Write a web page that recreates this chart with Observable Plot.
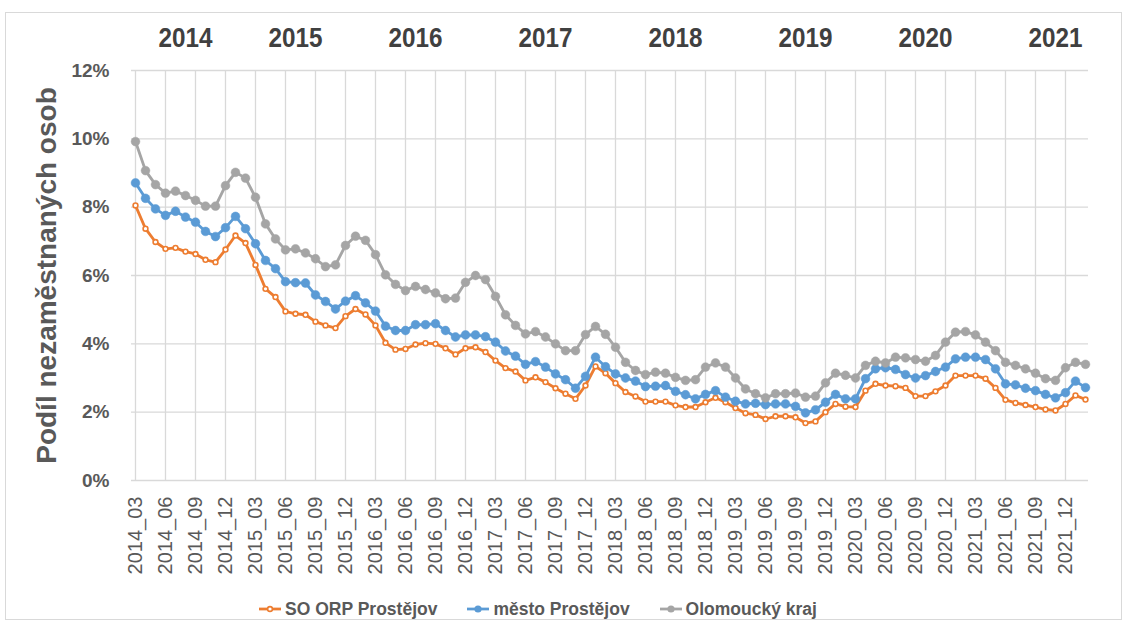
<!DOCTYPE html>
<html>
<head>
<meta charset="utf-8">
<script src="https://cdn.jsdelivr.net/npm/d3@7"></script>
<script src="https://cdn.jsdelivr.net/npm/@observablehq/plot@0.6"></script>
<style>
  body { margin: 0; background: #fff; }
  #wrap { position: relative; width: 1136px; height: 630px; overflow: hidden; background: #fff; }
  #frame { position: absolute; left: 5px; top: 12px; width: 1115px; height: 606px; border: 1px solid #d9d9d9; pointer-events: none; }
  #legend { position: relative; width: 1136px; height: 34px; display: flex; justify-content: center; align-items: center; gap: 30px;
            font-family: "Liberation Sans", Arial, sans-serif; font-weight: bold; font-size: 17.5px; color: #595959; padding-right: 60px; box-sizing: border-box; }
  #legend .item { display: flex; align-items: center; gap: 4px; }
</style>
</head>
<body>
<div id="wrap">
  <div id="chart"></div>
  <div id="legend"></div>
  <div id="frame"></div>
</div>
<script>
// Categories: months
const months = [
  "2014_03","2014_04","2014_05","2014_06","2014_07","2014_08","2014_09","2014_10","2014_11","2014_12",
  "2015_01","2015_02","2015_03","2015_04","2015_05","2015_06","2015_07","2015_08","2015_09","2015_10","2015_11","2015_12",
  "2016_01","2016_02","2016_03","2016_04","2016_05","2016_06","2016_07","2016_08","2016_09","2016_10","2016_11","2016_12",
  "2017_01","2017_02","2017_03","2017_04","2017_05","2017_06","2017_07","2017_08","2017_09","2017_10","2017_11","2017_12",
  "2018_01","2018_02","2018_03","2018_04","2018_05","2018_06","2018_07","2018_08","2018_09","2018_10","2018_11","2018_12",
  "2019_01","2019_02","2019_03","2019_04","2019_05","2019_06","2019_07","2019_08","2019_09","2019_10","2019_11","2019_12",
  "2020_01","2020_02","2020_03","2020_04","2020_05","2020_06","2020_07","2020_08","2020_09","2020_10","2020_11","2020_12",
  "2021_01","2021_02","2021_03","2021_04","2021_05","2021_06","2021_07","2021_08","2021_09","2021_10","2021_11","2021_12",
  "2022_01","2022_02"
];

// Series values (%)
const soOrpProstejov = [
  8.05,7.37,6.98,6.78,6.81,6.70,6.63,6.46,6.39,6.76,
  7.17,6.95,6.31,5.61,5.37,4.95,4.88,4.85,4.65,4.54,4.46,4.81,
  5.02,4.86,4.54,4.03,3.83,3.85,3.98,4.02,4.00,3.87,3.69,3.87,
  3.90,3.76,3.51,3.29,3.19,2.93,3.02,2.88,2.70,2.54,2.39,2.78,
  3.34,3.14,2.85,2.59,2.46,2.31,2.31,2.31,2.20,2.15,2.15,2.29,
  2.42,2.29,2.12,1.97,1.92,1.80,1.88,1.88,1.85,1.68,1.73,2.00,
  2.24,2.16,2.15,2.63,2.83,2.78,2.76,2.71,2.47,2.47,2.61,2.78,
  3.07,3.07,3.07,2.98,2.71,2.36,2.27,2.21,2.15,2.08,2.05,2.24,
  2.49,2.37
];
const mestoProstejov = [
  8.71,8.26,7.95,7.76,7.88,7.71,7.56,7.29,7.14,7.40,
  7.73,7.37,6.93,6.44,6.20,5.82,5.79,5.78,5.43,5.24,5.02,5.25,
  5.41,5.20,4.96,4.52,4.39,4.39,4.56,4.56,4.59,4.39,4.20,4.26,
  4.26,4.21,4.05,3.79,3.64,3.40,3.48,3.32,3.12,2.95,2.70,3.05,
  3.61,3.33,3.12,3.00,2.91,2.75,2.76,2.78,2.61,2.51,2.39,2.52,
  2.63,2.44,2.32,2.24,2.26,2.22,2.24,2.24,2.17,1.98,2.07,2.29,
  2.52,2.39,2.39,2.98,3.27,3.30,3.25,3.10,3.00,3.07,3.19,3.32,
  3.56,3.61,3.61,3.54,3.27,2.83,2.80,2.70,2.63,2.52,2.42,2.57,
  2.91,2.72
];
const olomouckyKraj = [
  9.92,9.07,8.66,8.41,8.47,8.34,8.20,8.03,8.03,8.63,
  9.02,8.85,8.29,7.51,7.07,6.75,6.78,6.66,6.49,6.26,6.31,6.88,
  7.15,7.03,6.61,6.02,5.74,5.56,5.68,5.59,5.49,5.32,5.34,5.80,
  6.00,5.88,5.39,4.85,4.54,4.29,4.36,4.20,4.00,3.80,3.80,4.27,
  4.51,4.28,3.90,3.46,3.22,3.10,3.17,3.14,3.02,2.93,2.95,3.32,
  3.44,3.32,3.00,2.68,2.54,2.42,2.54,2.54,2.56,2.44,2.47,2.86,
  3.14,3.08,3.00,3.37,3.49,3.44,3.61,3.59,3.54,3.49,3.66,4.05,
  4.34,4.36,4.26,4.05,3.80,3.46,3.37,3.27,3.14,2.98,2.93,3.30,
  3.46,3.40
];

const seriesNames = ["SO ORP Prostějov", "město Prostějov", "Olomoucký kraj"];
const seriesColors = ["#ED7D31", "#5B9BD5", "#A5A5A5"];

// Tick labels
const xTickLabels = months.filter((m, i) => i % 3 === 0 && i <= 93);
const yTicks = [0, 2, 4, 6, 8, 10, 12];

// Year header labels and the month each is centered over
const yearLabels = ["2014","2015","2016","2017","2018","2019","2020","2021"];
const yearAnchors = ["2014_08","2015_07","2016_07","2017_08","2018_09","2019_10","2020_10","2021_11"];

const yAxisTitle = "Podíl nezaměstnaných osob";

const font = "'Liberation Sans', Arial, sans-serif";

function seriesMarks(values, color, open) {
  const rows = months.map((m, i) => ({ month: m, value: values[i] }));
  return [
    Plot.line(rows, { x: "month", y: "value", stroke: color, strokeWidth: 2.85, curve: "linear" }),
    open
      ? Plot.dot(rows, { x: "month", y: "value", r: 2.4, fill: "white", stroke: color, strokeWidth: 1.6 })
      : Plot.dot(rows, { x: "month", y: "value", r: 4.4, fill: color, stroke: color, strokeWidth: 0.5 })
  ];
}

const yearRows = yearLabels.map((y, i) => ({ label: y, month: yearAnchors[i] }));

const chart = Plot.plot({
  width: 1136,
  height: 592,
  marginLeft: 131,
  marginRight: 48,
  marginTop: 70,
  marginBottom: 112,
  style: { fontFamily: font, background: "transparent", overflow: "visible" },
  x: { type: "point", domain: months, padding: 0, label: null },
  y: { domain: [0, 12], label: null },
  marks: [
    Plot.ruleY(yTicks, { stroke: "#d9d9d9", strokeWidth: 1.3 }),
    Plot.ruleX(xTickLabels, { y1: 0, y2: 12, stroke: "#d9d9d9", strokeWidth: 1.3 }),
    Plot.axisX({ ticks: xTickLabels, tickRotate: -90, tickSize: 0, tickPadding: 16, fontSize: 20, fill: "#595959", label: null }),
    Plot.axisY({ ticks: yTicks, tickFormat: d => d + "%", tickSize: 0, tickPadding: 22, fontSize: 19, fontWeight: "bold", fill: "#595959", label: null }),
    Plot.text([yAxisTitle], { frameAnchor: "left", dx: -84, rotate: -90, textAnchor: "middle", lineAnchor: "middle", fontSize: 28, fontWeight: "bold", fill: "#595959", fontFamily: font }),
    Plot.text(yearRows, { x: "month", y: () => 12, text: "label", dy: -32, fontSize: 27, fontWeight: "bold", fill: "#404040", fontFamily: font }),
    ...seriesMarks(soOrpProstejov, seriesColors[0], true),
    ...seriesMarks(mestoProstejov, seriesColors[1], false),
    ...seriesMarks(olomouckyKraj, seriesColors[2], false)
  ]
});
document.getElementById("chart").appendChild(chart);

// Condense the year header labels (narrow bold look)
d3.select(chart).selectAll("text").each(function () {
  if (yearLabels.includes(this.textContent)) {
    this.setAttribute("textLength", 54);
    this.setAttribute("lengthAdjust", "spacingAndGlyphs");
  }
});

// Legend
const legend = document.getElementById("legend");
seriesNames.forEach((name, i) => {
  const item = document.createElement("div");
  item.className = "item";
  const c = seriesColors[i];
  const dot = i === 0
    ? `<circle cx="11" cy="7" r="2.4" fill="white" stroke="${c}" stroke-width="1.6"/>`
    : `<circle cx="11" cy="7" r="3.6" fill="${c}"/>`;
  item.innerHTML = `<svg width="22" height="14"><line x1="0" x2="22" y1="7" y2="7" stroke="${c}" stroke-width="2.75"/>${dot}</svg><span>${name}</span>`;
  legend.appendChild(item);
});
</script>
</body>
</html>
